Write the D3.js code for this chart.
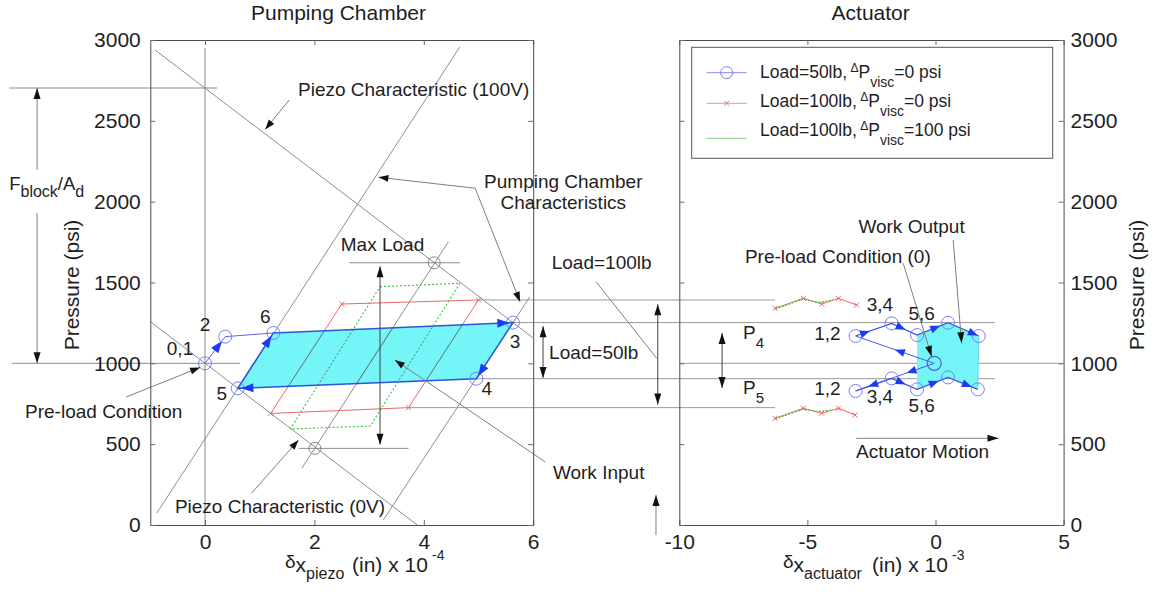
<!DOCTYPE html>
<html><head><meta charset="utf-8">
<script src="https://cdn.jsdelivr.net/npm/d3@7"></script>
<style>
body{margin:0;background:#fff}
svg{display:block;background:#fff}
text{font-family:"Liberation Sans",Arial,Helvetica,sans-serif;fill:#1e1e1e;white-space:pre}
</style></head>
<body><svg id="c" width="1157" height="592"></svg>
<script>
// ---------------- DATA ----------------
const leftXTicks = [0, 2, 4, 6];
const rightXTicks = [-10, -5, 0, 5];
const yTicks = [0, 500, 1000, 1500, 2000, 2500, 3000];

// left panel: x = delta x_piezo (1e-4 in), y = pressure (psi)
const piezo100V = [[-0.914, 2938], [6, 1157]];
const piezo0V = [[-1, 1258], [3.88, 0]];
const chamberLineA = [[-0.88, 74], [4.66, 2958]];
const chamberLineC = [[1.77, 351], [4.45, 1752]];
const chamberLineB = [[3.26, 31], [5.94, 1412]];
const zeroLine = [[0, 2950], [0, 0]];
const blockLine = [[-3.58, 2703], [0.22, 2703]];
const preloadLine = [[-3.53, 1000], [0.64, 1000]];
const maxLoadLine = [[2.64, 1622], [4.66, 1622]];
const zeroVLine = [[1.71, 474], [3.72, 474]];
const refCircles = [[4.19, 1622], [2.01, 474]];

// pumping cycle, Load=50lb: points 0/1, 2, 6, 3, 4, 5
const cycle50 = [[0, 1000], [0.37, 1165], [1.25, 1188], [5.63, 1252], [4.96, 905], [0.60, 845]];
const cycle50Labels = ["0,1", "2", "6", "3", "4", "5"];
// Load=100lb, dPvisc=0
const cycle100 = [[2.5, 1367], [5.0, 1392], [3.72, 726], [1.2, 690]];
// Load=100lb, dPvisc=100
const cycle100v = [[3.2, 1474], [4.66, 1495], [3.02, 612], [1.56, 594]];

// actuator panel: x = delta x_actuator (1e-3 in)
const actStart = [-0.05, 1000];
const actUpper50 = [[-3.12, 1169], [-1.71, 1247], [-0.72, 1175], [0.49, 1251], [1.69, 1169]];
const actLower50 = [[-3.12, 829], [-1.71, 907], [-0.72, 839], [0.49, 913], [1.65, 839]];
const actUpper100 = [[-6.26, 1340], [-5.16, 1402], [-4.44, 1367], [-3.79, 1402], [-3.08, 1361]];
const actLower100 = [[-6.26, 660], [-5.16, 722], [-4.44, 691], [-3.79, 722], [-3.14, 680]];
const actUpper100v = [[-6.26, 1335], [-5.16, 1398], [-4.6, 1376], [-4.0, 1392]];
const actLower100v = [[-6.26, 655], [-5.16, 717], [-4.6, 702], [-4.0, 713]];

// pressure levels carried from the chamber to the actuator: [psi, chamber x, actuator x]
const levelLines = [[1392, 5.0, -6.26], [1252, 5.63, 2.32], [905, 4.96, 2.32], [726, 3.72, -6.26]];
const actZeroLine = [[-10, 1000], [5, 1000]];

const legendLabels = [
  ["Load=50lb,", "0 psi"],
  ["Load=100lb,", "0 psi"],
  ["Load=100lb,", "100 psi"]
];

// ---------------- SCALES ----------------
const xL = d3.scaleLinear().domain([-1, 6]).range([150.3, 533.2]);
const xR = d3.scaleLinear().domain([-10, 5]).range([679.3, 1063.6]);
const y = d3.scaleLinear().domain([0, 3000]).range([525, 40]);
const L = p => [xL(p[0]), y(p[1])];
const R = p => [xR(p[0]), y(p[1])];
const fmt = d => String(d);

const svg = d3.select("#c");
const g = svg.append("g");
const lineGen = d3.line();

function path(parent, pts, color, w, dash, closed) {
  return parent.append("path").attr("d", lineGen(pts) + (closed ? "Z" : ""))
    .attr("fill", "none").attr("stroke", color).attr("stroke-width", w)
    .attr("stroke-dasharray", dash || null);
}
function atT(a, b, t) { return [a[0] + (b[0] - a[0]) * t, a[1] + (b[1] - a[1]) * t]; }
function arrowHead(parent, tip, from, color, len, wid) {
  const dx = tip[0] - from[0], dy = tip[1] - from[1], d = Math.hypot(dx, dy);
  const ux = dx / d, uy = dy / d, bx = tip[0] - ux * len, by = tip[1] - uy * len;
  const px = -uy * wid / 2, py = ux * wid / 2;
  parent.append("path").attr("d", `M${tip[0]},${tip[1]}L${bx + px},${by + py}L${bx - px},${by - py}Z`)
    .attr("fill", color).attr("stroke", "none");
}
function xMark(parent, p, color, s) {
  parent.append("path").attr("d", `M${p[0]-s},${p[1]-s}L${p[0]+s},${p[1]+s}M${p[0]-s},${p[1]+s}L${p[0]+s},${p[1]-s}`)
    .attr("stroke", color).attr("stroke-width", 1).attr("fill", "none");
}
function circ(parent, p, color, r, w) {
  parent.append("circle").attr("cx", p[0]).attr("cy", p[1]).attr("r", r)
    .attr("fill", "none").attr("stroke", color).attr("stroke-width", w || 1);
}
function rich(parent, x, yb, parts, size, anchor) {
  const t = parent.append("text").attr("x", x).attr("y", yb).attr("font-size", size)
    .attr("text-anchor", anchor || "start");
  let cur = 0;
  parts.forEach(p => {
    const off = p.off || 0;
    const ts = t.append("tspan").attr("dy", off - cur).attr("font-size", p.size || size).text(p.t);
    if (p.x !== undefined) ts.attr("x", p.x);
    cur = off;
  });
  return t;
}
function label(parent, p, txt, size, anchor) {
  parent.append("text").attr("x", p[0]).attr("y", p[1]).attr("font-size", size)
    .attr("text-anchor", anchor || "start").attr("dominant-baseline", "central").text(txt);
}

const GRAY = "#808080", DARK = "#111";
const RED = "#e86a68", GREEN = "#33c833", BLUE_L = "#7b7bff", BLUE = "#2f55d4", BLUE_A = "#1c3cf0";
const CYAN = "#74f5f8";

// ---------------- LEFT PANEL ----------------
[piezo100V, piezo0V, chamberLineA, chamberLineB, chamberLineC, zeroLine, blockLine,
 preloadLine, maxLoadLine, zeroVLine].forEach(s => path(g, s.map(L), GRAY, 0.9));
refCircles.forEach(p => circ(g, L(p), "#8a8a8a", 6, 1));

// cross-panel level lines
levelLines.forEach(d => path(g, [[xL(d[1]), y(d[0])], [xR(d[2]), y(d[0])]], "#9a9a9a", 1));
path(g, actZeroLine.map(R), "#9a9a9a", 1);

// red & green cycles
path(g, cycle100.map(L), RED, 1, null, true);
cycle100.forEach(p => xMark(g, L(p), RED, 2.5));
path(g, cycle100v.map(L), GREEN, 1.1, "2,2", true);

// cyan work area
const workPoly = [cycle50[2], cycle50[3], cycle50[4], cycle50[5]].map(L);
g.append("path").attr("d", lineGen(workPoly) + "Z").attr("fill", CYAN).attr("stroke", "none");
svg.append("defs").append("clipPath").attr("id", "wc").append("path").attr("d", lineGen(workPoly) + "Z");
const gc = g.append("g").attr("clip-path", "url(#wc)");
path(gc, cycle100.map(L), "#6a6a6a", 1, null, true);
path(gc, cycle100v.map(L), "#6a6a6a", 1, "2,2", true);
[chamberLineC].forEach(s => path(gc, s.map(L), "#555", 0.9));
path(g, workPoly, BLUE, 1.6, null, true);

// preload path 0/1 -> 2 -> 6
path(g, [cycle50[0], cycle50[1], cycle50[2]].map(L), "#5a64f0", 1);
cycle50.forEach(p => circ(g, L(p), BLUE_L, 6.5, 1));
const leftArrows = [[0, 1, 0.84], [5, 2, 0.95], [2, 3, 0.985], [3, 4, 0.95], [4, 5, 0.985]];
leftArrows.forEach(a => {
  const A = L(cycle50[a[0]]), B = L(cycle50[a[1]]);
  arrowHead(g, atT(A, B, a[2]), A, BLUE_A, 12, 9);
});

// ---------------- RIGHT PANEL ----------------
const actPoly = actUpper50.slice(2).concat(actLower50.slice(2).reverse()).map(R);
g.append("path").attr("d", lineGen(actPoly) + "Z").attr("fill", CYAN).attr("stroke", "none");
path(g, actUpper100.map(R), RED, 1);
actUpper100.forEach(p => xMark(g, R(p), RED, 2.5));
path(g, actLower100.map(R), RED, 1);
actLower100.forEach(p => xMark(g, R(p), RED, 2.5));
path(g, actUpper100v.map(R), GREEN, 1.1, "2,1.5");
path(g, actLower100v.map(R), GREEN, 1.1, "2,1.5");

path(g, [actStart, actUpper50[0]].map(R), "#4a5cf0", 1);
path(g, [actStart, actLower50[0]].map(R), "#4a5cf0", 1);
path(g, actUpper50.map(R), "#3a4ee8", 1.2);
path(g, actLower50.map(R), "#3a4ee8", 1.2);
path(g, [actUpper50[4], actLower50[4]].map(R), "#6fd0e0", 1);
actUpper50.concat(actLower50).forEach(p => circ(g, R(p), BLUE_L, 6.5, 1));
circ(g, R(actStart), "#5060d8", 7, 1.2);

const rightArrows = [
  [actStart, actUpper50[0], 0.5], [actUpper50[0], actUpper50[1], 0.4], [actUpper50[1], actUpper50[2], 0.55],
  [actUpper50[2], actUpper50[3], 0.75], [actUpper50[3], actUpper50[4], 0.97],
  [actStart, actLower50[1], 0.65], [actLower50[1], actLower50[0], 0.65], [actLower50[1], actLower50[2], 0.55],
  [actLower50[2], actLower50[3], 0.7], [actLower50[3], actLower50[4], 0.8]
];
rightArrows.forEach(a => {
  const A = R(a[0]), B = R(a[1]);
  arrowHead(g, atT(A, B, a[2]), A, BLUE_A, 10, 8);
});

// ---------------- ANNOTATION ARROWS ----------------
// F_block / A_d
path(g, [L([-3.07, 2703]), L([-3.07, 2196])], GRAY, 1);
path(g, [L([-3.07, 1930]), L([-3.07, 1000])], GRAY, 1);
arrowHead(g, L([-3.07, 2703]), L([-3.07, 2196]), DARK, 11, 7);
arrowHead(g, L([-3.07, 1000]), L([-3.07, 1930]), DARK, 11, 7);
// leaders in chamber panel: [from, tip]
const leftLeaders = [
  [[1.54, 2629], [1.10, 2447]],
  [[4.94, 2083], [3.17, 2151]],
  [[4.94, 2083], [5.76, 1381]],
  [[0.85, 196], [1.71, 526]],
  [[-1.44, 792], [-0.09, 975]],
  [[6.22, 390], [3.47, 1021]]
];
leftLeaders.forEach(d => { path(g, d.map(L), GRAY, 1); arrowHead(g, L(d[1]), L(d[0]), DARK, 10, 7); });
// double arrows: [x, P low, P high]
const leftDouble = [[3.2, 497, 1600], [6.18, 910, 1230]];
leftDouble.forEach(d => {
  path(g, [L([d[0], d[1]]), L([d[0], d[2]])], "#444", 1);
  arrowHead(g, L([d[0], d[2]]), L([d[0], d[1]]), DARK, 11, 7);
  arrowHead(g, L([d[0], d[1]]), L([d[0], d[2]]), DARK, 11, 7);
});
const rightDouble = [[-10.84, 745, 1365], [-8.33, 848, 1188]];
rightDouble.forEach(d => {
  path(g, [R([d[0], d[1]]), R([d[0], d[2]])], "#444", 1);
  arrowHead(g, R([d[0], d[2]]), R([d[0], d[1]]), DARK, 11, 7);
  arrowHead(g, R([d[0], d[1]]), R([d[0], d[2]]), DARK, 11, 7);
});
// leaders in actuator panel
path(g, [R([-13.25, 1505]), R([-10.88, 1031])], GRAY, 1);
const rightLeaders = [
  [[-10.91, -62], [-10.91, 186]],
  [[0.69, 1763], [1.02, 1124]],
  [[-1.26, 1619], [-0.15, 1041]],
  [[-3.1, 536], [2.46, 536]]
];
rightLeaders.forEach(d => { path(g, d.map(R), GRAY, 1); arrowHead(g, R(d[1]), R(d[0]), DARK, 11, 7); });

// ---------------- AXES ----------------
function styleAxis(sel) {
  sel.selectAll("path.domain").attr("stroke", "#4a4a4a").attr("stroke-width", 1);
  sel.selectAll(".tick line").attr("stroke", "#6a6a6a");
  sel.selectAll("text").attr("font-size", 21).attr("fill", "#1e1e1e")
    .attr("font-family", '"Liberation Sans", Arial, Helvetica, sans-serif');
  sel.attr("font-family", null).attr("font-size", null);
}
const ax = svg.append("g");
styleAxis(ax.append("g").attr("transform", "translate(0,525)")
  .call(d3.axisBottom(xL).tickValues(leftXTicks).tickSize(-5).tickSizeOuter(0).tickPadding(9).tickFormat(fmt)));
styleAxis(ax.append("g").attr("transform", "translate(0,40)")
  .call(d3.axisTop(xL).tickValues(leftXTicks).tickSize(-5).tickSizeOuter(0).tickFormat("")));
styleAxis(ax.append("g").attr("transform", "translate(150.3,0)")
  .call(d3.axisLeft(y).tickValues(yTicks).tickSize(-5).tickSizeOuter(0).tickPadding(9.5).tickFormat(fmt)));
styleAxis(ax.append("g").attr("transform", "translate(533.2,0)")
  .call(d3.axisRight(y).tickValues(yTicks).tickSize(-5).tickSizeOuter(0).tickFormat("")));

styleAxis(ax.append("g").attr("transform", "translate(0,525)")
  .call(d3.axisBottom(xR).tickValues(rightXTicks).tickSize(-5).tickSizeOuter(0).tickPadding(9).tickFormat(fmt)));
styleAxis(ax.append("g").attr("transform", "translate(0,40)")
  .call(d3.axisTop(xR).tickValues(rightXTicks).tickSize(-5).tickSizeOuter(0).tickFormat("")));
styleAxis(ax.append("g").attr("transform", "translate(679.3,0)")
  .call(d3.axisLeft(y).tickValues(yTicks).tickSize(-5).tickSizeOuter(0).tickFormat("")));
styleAxis(ax.append("g").attr("transform", "translate(1063.6,0)")
  .call(d3.axisRight(y).tickValues(yTicks).tickSize(-5).tickSizeOuter(0).tickPadding(7).tickFormat(fmt)));

// ---------------- TEXT ----------------
const T = svg.append("g");
T.append("text").attr("x", 338.5).attr("y", 20).attr("font-size", 21).attr("text-anchor", "middle").text("Pumping Chamber");
T.append("text").attr("x", 870.7).attr("y", 20).attr("font-size", 21).attr("text-anchor", "middle").text("Actuator");
T.append("text").attr("transform", "translate(79,285) rotate(-90)").attr("font-size", 21).attr("text-anchor", "middle").text("Pressure (psi)");
T.append("text").attr("transform", "translate(1144,285) rotate(-90)").attr("font-size", 21).attr("text-anchor", "middle").text("Pressure (psi)");

rich(T, 285, 571.5, [{t: "δ", size: 19, off: -4}, {t: "x", off: 0}, {t: "piezo", size: 16, off: 7},
  {t: "(in) x 10", off: 0, x: 352}, {t: "-4", size: 14, off: -12, x: 432}], 21);
rich(T, 783, 571.5, [{t: "δ", size: 19, off: -4}, {t: "x", off: 0}, {t: "actuator", size: 16, off: 7},
  {t: "(in) x 10", off: 0, x: 872}, {t: "-3", size: 14, off: -12, x: 952}], 21);

rich(T, L([-3.58, 0])[0], 190, [{t: "F"}, {t: "block", size: 16, off: 7}, {t: "/A", off: 0}, {t: "d", size: 16, off: 7}], 18.5);

const leftNotes = [
  ["Piezo Characteristic (100V)", 1.70, 2691, "start"],
  ["Pumping Chamber", 6.55, 2122, "middle"],
  ["Characteristics", 6.55, 1992, "middle"],
  ["Max Load", 3.245, 1732, "middle"],
  ["Pre-load Condition", -3.29, 701, "start"],
  ["Piezo Characteristic (0V)", -0.55, 113, "start"],
  ["Work Input", 6.36, 324, "start"],
  ["Load=50lb", 6.29, 1066, "start"]
];
leftNotes.forEach(d => label(T, L([d[1], d[2]]), d[0], 19, d[3]));
const labelPos = [[-0.457, 1093], [0, 1241], [1.1, 1288], [5.67, 1134], [5.15, 846], [0.305, 815]];
cycle50Labels.forEach((t, i) => label(T, L(labelPos[i]), t, 19, "middle"));

const rightNotes = [
  ["Load=100lb", -14.98, 1622, "start"],
  ["1,2", -4.22, 1186, "middle"], ["1,2", -4.22, 846, "middle"],
  ["3,4", -2.17, 1361, "middle"], ["3,4", -2.17, 794, "middle"],
  ["5,6", -0.54, 1310, "middle"], ["5,6", -0.54, 742, "middle"],
  ["Work Output", -3.01, 1845, "start"],
  ["Pre-load Condition (0)", -7.44, 1660, "start"],
  ["Actuator Motion", -3.1, 453, "start"]
];
rightNotes.forEach(d => label(T, R([d[1], d[2]]), d[0], 19, d[3]));
rich(T, R([-7.51, 0])[0], R([0, 1196])[1] + 7, [{t: "P"}, {t: "4", size: 15, off: 9}], 19);
rich(T, R([-7.51, 0])[0], R([0, 854])[1] + 7, [{t: "P"}, {t: "5", size: 15, off: 9}], 19);

// ---------------- LEGEND ----------------
const lg = svg.append("g");
lg.append("rect").attr("x", 691.7).attr("y", 47.3).attr("width", 361).attr("height", 111)
  .attr("fill", "#fff").attr("stroke", "#555").attr("stroke-width", 1);
const lgLineY = [72.7, 103.3, 138.3], lgTextY = [78.3, 106.7, 135.5];
const lgColors = ["#8888ee", "#f09090", "#88d088"];
lgColors.forEach((c, i) => lg.append("line").attr("x1", 706.7).attr("x2", 746.7).attr("y1", lgLineY[i]).attr("y2", lgLineY[i]).attr("stroke", c).attr("stroke-width", 1));
circ(lg, [726.7, lgLineY[0]], "#8080f0", 6, 1);
xMark(lg, [726.7, lgLineY[1]], "#f07070", 2.5);
legendLabels.forEach((d, i) => {
  rich(lg, 760, lgTextY[i], [{t: d[0]}, {t: " Δ", size: 12, off: -6}, {t: "P", off: 0}, {t: "visc", size: 14, off: 9}, {t: "=" + d[1], off: 0}], 17.5);
});
</script></body></html>
